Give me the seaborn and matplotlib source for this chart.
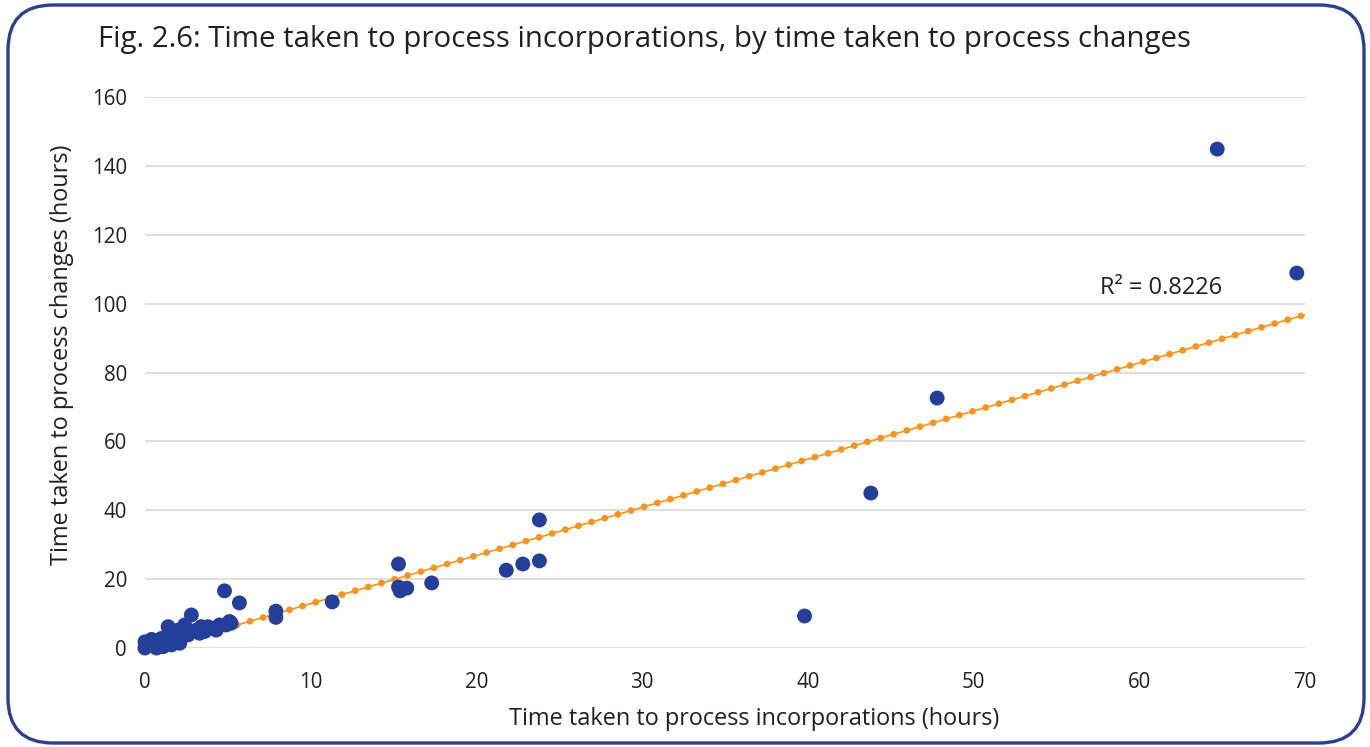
import pandas as pd
import matplotlib.pyplot as plt
import seaborn as sns
from matplotlib.patches import FancyBboxPatch

# Data (hours)
incorporations = [0, 0, 0.4, 0.6, 0.7, 1.0, 1.1, 1.4, 1.6, 1.7, 2.0, 2.1, 2.2, 2.4, 2.6,
                  2.8, 3.1, 3.3, 3.4, 3.6, 3.8, 4.1, 4.3, 4.5, 4.9, 5.1, 5.2, 4.8, 5.7,
                  7.9, 7.9, 11.3, 15.3, 15.3, 15.4, 15.8, 17.3, 21.8, 22.8, 23.8, 23.8,
                  39.8, 43.8, 47.8, 64.7, 69.5]
changes = [0, 1.8, 2.5, 0.9, 0, 2.8, 0.4, 6.2, 0.9, 3.8, 5.2, 1.4, 3.3, 6.7, 3.8,
           9.6, 5.2, 4.3, 6.2, 4.8, 6.2, 5.7, 5.2, 6.7, 6.7, 7.7, 7.2, 16.6, 13.1,
           10.7, 8.9, 13.4, 24.4, 17.7, 16.6, 17.4, 18.9, 22.6, 24.4, 25.3, 37.2,
           9.3, 45.0, 72.6, 144.9, 108.9]

# trendline end points as drawn in the chart
trend_x = [0, 70]
trend_y = [-1.1, 96.8]
r2_label = "R² = 0.8226"

df = pd.DataFrame({"incorp": incorporations, "changes": changes})
trend = pd.DataFrame({"x": trend_x, "y": trend_y})

sns.set_style("white")
plt.rcParams["font.family"] = ["Open Sans", "DejaVu Sans"]

fig = plt.figure(figsize=(13.7, 7.47), dpi=100)
ax = fig.add_axes([0.1058, 0.1325, 0.8468, 0.7375])

blue = "#233f99"
orange = "#f7941d"
text_col = "#231f20"

# thin line plus round dots (Excel "round dot" style)
sns.lineplot(data=trend, x="x", y="y", ax=ax, color=orange, linewidth=1.2, zorder=2)
sns.lineplot(data=trend, x="x", y="y", ax=ax, color=orange, linewidth=4.9, zorder=2)
dot_line = ax.lines[-1]
dot_line.set_linestyle((0, (0.01, 2.0)))
dot_line.set_dash_capstyle("round")

sns.scatterplot(data=df, x="incorp", y="changes", ax=ax, color=blue, s=115,
                edgecolor="none", zorder=3, clip_on=False)

ax.set_xlim(0, 70)
ax.set_ylim(0, 160)
ax.set_xticks(range(0, 71, 10))
ax.set_yticks(range(0, 161, 20))
ax.grid(axis="y", color="#d9d9d9", linewidth=1.2)
ax.set_axisbelow(True)
for s in ax.spines.values():
    s.set_visible(False)
ax.tick_params(axis="both", length=0, labelsize=14.8, labelcolor=text_col)
ax.tick_params(axis="x", pad=17)
ax.tick_params(axis="y", pad=13)

ax.set_xlabel("Time taken to process incorporations (hours)", fontsize=16.9,
              color=text_col, labelpad=10)
ax.set_ylabel("Time taken to process changes (hours)", fontsize=16.9,
              color=text_col, labelpad=13)
ax.xaxis.label.set_x(0.525)
ax.yaxis.label.set_y(0.532)

ax.text(57.6, 104.5, r2_label, fontsize=17, color=text_col, ha="left", va="center")

fig.text(98 / 1370, 1 - 40 / 747,
         "Fig. 2.6: Time taken to process incorporations, by time taken to process changes",
         fontsize=21.2, color=text_col, ha="left", va="center")

# rounded frame
frame = FancyBboxPatch((8, 4), 1356, 738, boxstyle="round,pad=0,rounding_size=45",
                       transform=None, facecolor="none", edgecolor="#2a3f96",
                       linewidth=2.4, zorder=10)
fig.patches.append(frame)

plt.savefig("out.png", dpi=100)
plt.close()
